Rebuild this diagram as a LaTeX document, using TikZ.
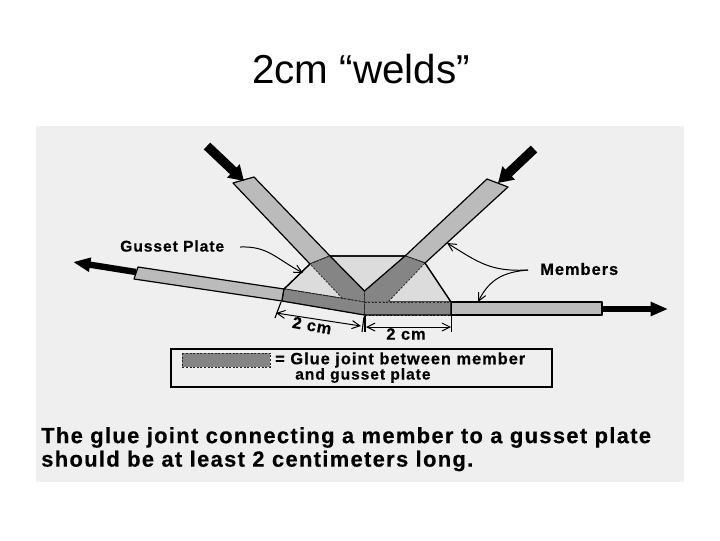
\documentclass[tikz,border=0pt]{standalone}
\usepackage{fontspec}
\usetikzlibrary{arrows.meta}
\setmainfont{Liberation Sans}
\newfontfamily\lblfont[LetterSpace=6,FakeBold=0.4]{Liberation Sans Bold}
\definecolor{panel}{HTML}{EFEFEF}
\definecolor{memberfill}{HTML}{BBBBBB}
\definecolor{gluefill}{HTML}{858585}
\definecolor{gussetfill}{HTML}{DCDCDC}
\tikzset{
  x=0.75pt,y=-0.75pt,
  member/.style={draw=black,line width=0.9pt,fill=memberfill,line join=round},
  gusset/.style={draw=black,line width=0.9pt,fill=gussetfill,line join=round},
  glue/.style={fill=gluefill,draw=black!85,line width=0.6pt,dash pattern=on 1.5pt off 1.2pt},
  forcetop/.style={line width=7pt,-{Triangle[length=11pt,width=13pt]},black},
  forceside/.style={line width=4.8pt,-{Triangle[length=13pt,width=10pt]},black},
  leader/.style={line width=0.75pt,-{Straight Barb[length=6pt,width=6pt]}},
  dimline/.style={line width=0.75pt,{Straight Barb[length=6pt,width=6pt]}-{Straight Barb[length=6pt,width=6pt]}},
  tick/.style={line width=0.85pt},
  lbl/.style={inner sep=0pt,text=black},
  small/.style={lbl,font=\lblfont\fontsize{11.7}{13}\selectfont},
  wide/.style={lbl,font=\lblfont\fontsize{12.3}{14}\selectfont},
  big/.style={lbl,font=\lblfont\fontsize{16.45}{19}\selectfont}
}
\begin{document}
\begin{tikzpicture}
\useasboundingbox (0,0) rectangle (720,540);
\fill[white] (0,0) rectangle (720,540);
\fill[panel] (36,126) rectangle (684,482);
\node[font=\fontsize{30.3}{36}\selectfont,inner sep=0pt] (title) at (361,69) {2cm “welds”};
% coordinates
\coordinate (ga) at (330,256); \coordinate (gb) at (405,256);
\coordinate (gc) at (425,263); \coordinate (gd) at (451,302);
\coordinate (ge) at (310,264); \coordinate (gf) at (284,289);
\coordinate (mid) at (364.5,291); \coordinate (midb) at (364.5,302);
% gusset plate
\path[gusset] (ga) -- (gb) -- (gc) -- (gd) -- (midb) -- (gf) -- (ge) -- cycle;
% members: light parts
\path[member] (233,183) -- (254,177) -- (ga) -- (ge) -- cycle;
\path[member] (487,179) -- (508,187) -- (gc) -- (gb) -- cycle;
\path[member] (451,302) -- (602,302) -- (602,315) -- (451,315) -- cycle;
\path[member] (138,267) -- (284,289) -- (282,301) -- (134,279) -- cycle;
% glue joints
\path[glue] (ge) -- (ga) -- (mid) -- (midb) -- (342,298) -- cycle;
\path[glue] (gb) -- (gc) -- (388,302) -- (midb) -- (mid) -- cycle;
\path[glue] (gf) -- (midb) -- (364.5,315) -- (282,301) -- cycle;
\path[glue] (midb) -- (gd) -- (451,315) -- (364.5,315) -- cycle;
% solid outlines over the joints
\draw[line width=0.9pt,line join=round] (ge) -- (gf) -- (282,301) -- (364.5,315) -- (451,315) -- (gd) -- (gc);
\draw[line width=0.9pt,line join=round] (gb) -- (ga) -- (mid) -- (gb);
% force arrows
\coordinate (f1a) at (207,146); \coordinate (f1b) at (244,181);
\coordinate (f2a) at (534,149); \coordinate (f2b) at (498,183);
\coordinate (f3a) at (136,272); \coordinate (f3b) at (73,262);
\coordinate (f4a) at (602,309); \coordinate (f4b) at (668,309);
\draw[forcetop] (f1a) -- (f1b);
\draw[forcetop] (f2a) -- (f2b);
\draw[forceside] (f3a) -- (f3b);
\draw[forceside] (f4a) -- (f4b);
% labels & leaders
\node[small,anchor=west] (gp) at (120,246) {Gusset Plate};
\node[wide,anchor=west] (mb) at (540,269) {Members};
\coordinate (gpl) at (240,247); \coordinate (gpt) at (303,273);
\draw[leader] (gpl) .. controls (268,246) and (275,258) .. (gpt);
\coordinate (mbl) at (528,270); \coordinate (mt1) at (447,243); \coordinate (mt2) at (478,302);
\draw[leader] (mbl) .. controls (490,272) and (478,262) .. (mt1);
\draw[leader] (mbl) .. controls (505,272) and (490,278) .. (mt2);
% dimensions
\coordinate (t1a) at (281,302); \coordinate (t1b) at (275,318);
\coordinate (t2a) at (364,317); \coordinate (t2b) at (362,332);
\coordinate (t3a) at (365,316); \coordinate (t3b) at (365,332);
\coordinate (t4a) at (451.5,302); \coordinate (t4b) at (451.5,332);
\draw[tick] (t1a) -- (t1b);
\draw[tick] (t2a) -- (t2b);
\draw[tick] (t3a) -- (t3b);
\draw[tick] (t4a) -- (t4b);
\coordinate (d1a) at (276,313); \coordinate (d1b) at (361,326);
\coordinate (d2a) at (366,327); \coordinate (d2b) at (451,327);
\draw[dimline] (d1a) -- (d1b);
\draw[dimline] (d2a) -- (d2b);
\node[wide,rotate=-10] (dt1) at (312,325.5) {2 cm};
\node[wide] (dt2) at (406,334) {2 cm};
% legend
\draw[line width=0.9pt] (171,349) rectangle (552,387);
\path[glue] (182,353) rectangle (270,367);
\node[wide,anchor=west] (l1) at (275,360) {= Glue joint between member};
\node[small,anchor=west] (l2) at (295,375.5) {and gusset plate};
% statement
\node[big,anchor=west] (s1) at (41,437.5) {The glue joint connecting a member to a gusset plate};
\node[big,anchor=west] (s2) at (41,461) {should be at least 2 centimeters long.};
\end{tikzpicture}
\end{document}
